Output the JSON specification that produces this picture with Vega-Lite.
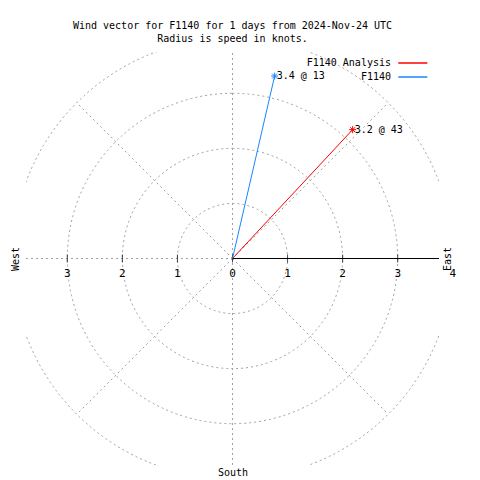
{
  "$schema": "https://vega.github.io/schema/vega-lite/v6.json",
  "width": 413,
  "height": 413,
  "autosize": {"type": "none"},
  "padding": {"left": 26, "top": 52, "right": 41, "bottom": 15},
  "background": "white",
  "config": {"view": {"stroke": null}, "font": "DejaVu Sans Mono"},
  "title": {
    "text": ["Wind vector for F1140 for 1 days from 2024-Nov-24 UTC", "Radius is speed in knots."],
    "font": "DejaVu Sans Mono",
    "fontSize": 10,
    "fontWeight": "normal",
    "color": "black",
    "anchor": "middle",
    "frame": "group",
    "lineHeight": 13,
    "offset": 8
  },
  "datasets": {
    "rings": [{"r": 1}, {"r": 2}, {"r": 3}, {"r": 4}],
    "spokes": [
      {"x": -3.75, "y": 0, "x2": 3.75, "y2": 0},
      {"x": 0, "y": -3.75, "x2": 0, "y2": 3.75},
      {"x": 0, "y": 0, "x2": 2.828, "y2": 2.828},
      {"x": 0, "y": 0, "x2": -2.828, "y2": 2.828},
      {"x": 0, "y": 0, "x2": 2.828, "y2": -2.828},
      {"x": 0, "y": 0, "x2": -2.828, "y2": -2.828}
    ],
    "east": [{"x": 0, "y": 0, "x2": 3.75, "y2": 0}],
    "ticks": [
      {"v": -3, "lab": "3"}, {"v": -2, "lab": "2"}, {"v": -1, "lab": "1"},
      {"v": 0, "lab": "0"}, {"v": 1, "lab": "1"}, {"v": 2, "lab": "2"},
      {"v": 3, "lab": "3"}, {"v": 4, "lab": "4"}
    ],
    "vectors": [
      {"series": "F1140 Analysis", "x": 2.182, "y": 2.340, "label": "3.2 @ 43"},
      {"series": "F1140", "x": 0.765, "y": 3.313, "label": "3.4 @ 13"}
    ]
  },
  "resolve": {"axis": {"y": "independent", "x": "independent"}},
  "layer": [
    {
      "data": {"name": "rings"},
      "mark": {"type": "arc", "theta": 0, "theta2": 6.2832, "filled": false, "fill": null, "stroke": "#a0a0a0", "strokeWidth": 1, "strokeDash": [2, 3], "clip": true},
      "encoding": {
        "radius": {"field": "r", "type": "quantitative", "stack": null, "scale": {"type": "linear", "domain": [0, 3.75], "range": [0, 206.5], "zero": true}}
      }
    },
    {
      "data": {"name": "spokes"},
      "mark": {"type": "rule", "stroke": "#a0a0a0", "strokeWidth": 1, "strokeDash": [2, 3], "clip": true},
      "encoding": {
        "x": {"field": "x", "type": "quantitative", "scale": {"domain": [-3.75, 3.75], "nice": false, "zero": false},
              "axis": {"title": "South", "orient": "bottom", "domain": false, "ticks": false, "labels": false, "grid": false, "titlePadding": 2, "titleFont": "DejaVu Sans Mono", "titleFontSize": 10, "titleFontWeight": "normal", "titleColor": "black"}},
        "y": {"field": "y", "type": "quantitative", "scale": {"domain": [-3.75, 3.75], "nice": false, "zero": false},
              "axis": {"title": "West", "orient": "left", "domain": false, "ticks": false, "labels": false, "grid": false, "titlePadding": 6, "titleFont": "DejaVu Sans Mono", "titleFontSize": 10, "titleFontWeight": "normal", "titleColor": "black"}},
        "x2": {"field": "x2"},
        "y2": {"field": "y2"}
      }
    },
    {
      "data": {"name": "east"},
      "mark": {"type": "rule", "stroke": "black", "strokeWidth": 1},
      "encoding": {
        "x": {"field": "x", "type": "quantitative", "scale": {"domain": [-3.75, 3.75], "nice": false, "zero": false}, "axis": null},
        "y": {"field": "y", "type": "quantitative", "scale": {"domain": [-3.75, 3.75], "nice": false, "zero": false},
              "axis": {"title": "East", "orient": "right", "titleAngle": 270, "domain": false, "ticks": false, "labels": false, "grid": false, "titlePadding": 13, "titleFont": "DejaVu Sans Mono", "titleFontSize": 10, "titleFontWeight": "normal", "titleColor": "black"}},
        "x2": {"field": "x2"},
        "y2": {"field": "y2"}
      }
    },
    {
      "data": {"name": "ticks"},
      "transform": [{"filter": "datum.v <= 3"}],
      "mark": {"type": "tick", "orient": "vertical", "size": 8, "thickness": 1, "color": "black"},
      "encoding": {
        "x": {"field": "v", "type": "quantitative", "scale": {"domain": [-3.75, 3.75], "nice": false, "zero": false}, "axis": null},
        "y": {"datum": 0, "type": "quantitative", "scale": {"domain": [-3.75, 3.75], "nice": false, "zero": false}, "axis": null}
      }
    },
    {
      "data": {"name": "ticks"},
      "mark": {"type": "text", "dy": 15, "fontSize": 11, "font": "DejaVu Sans Mono", "color": "black", "align": "center", "baseline": "middle"},
      "encoding": {
        "x": {"field": "v", "type": "quantitative", "scale": {"domain": [-3.75, 3.75], "nice": false, "zero": false}, "axis": null},
        "y": {"datum": 0, "type": "quantitative", "scale": {"domain": [-3.75, 3.75], "nice": false, "zero": false}, "axis": null},
        "text": {"field": "lab"}
      }
    },
    {
      "data": {"name": "vectors"},
      "mark": {"type": "rule", "strokeWidth": 1},
      "encoding": {
        "x": {"field": "x", "type": "quantitative", "scale": {"domain": [-3.75, 3.75], "nice": false, "zero": false}, "axis": null},
        "y": {"field": "y", "type": "quantitative", "scale": {"domain": [-3.75, 3.75], "nice": false, "zero": false}, "axis": null},
        "x2": {"datum": 0},
        "y2": {"datum": 0},
        "color": {
          "field": "series", "type": "nominal",
          "scale": {"domain": ["F1140 Analysis", "F1140"], "range": ["#ff0000", "#1a85ff"]},
          "legend": {
            "orient": "none", "legendX": 381.8, "legendY": 6, "title": null, "padding": 0,
            "symbolType": "M-4.15,0L4.15,0", "symbolSize": 49, "symbolStrokeWidth": 1.5, "symbolFillColor": "transparent",
            "labelAlign": "right", "labelOffset": -26.8, "labelFont": "DejaVu Sans Mono", "labelFontSize": 10, "labelColor": "black",
            "rowPadding": 4
          }
        }
      }
    },
    {
      "data": {"name": "vectors"},
      "mark": {"type": "point", "shape": "M-1,0L1,0M0,-1L0,1M-0.7,-0.7L0.7,0.7M-0.7,0.7L0.7,-0.7", "size": 49, "filled": false, "strokeWidth": 1, "opacity": 1},
      "encoding": {
        "x": {"field": "x", "type": "quantitative", "scale": {"domain": [-3.75, 3.75], "nice": false, "zero": false}, "axis": null},
        "y": {"field": "y", "type": "quantitative", "scale": {"domain": [-3.75, 3.75], "nice": false, "zero": false}, "axis": null},
        "color": {"field": "series", "type": "nominal", "legend": null}
      }
    },
    {
      "data": {"name": "vectors"},
      "mark": {"type": "text", "align": "left", "baseline": "middle", "dx": 2, "fontSize": 10, "font": "DejaVu Sans Mono", "color": "black"},
      "encoding": {
        "x": {"field": "x", "type": "quantitative", "scale": {"domain": [-3.75, 3.75], "nice": false, "zero": false}, "axis": null},
        "y": {"field": "y", "type": "quantitative", "scale": {"domain": [-3.75, 3.75], "nice": false, "zero": false}, "axis": null},
        "text": {"field": "label"}
      }
    }
  ]
}
